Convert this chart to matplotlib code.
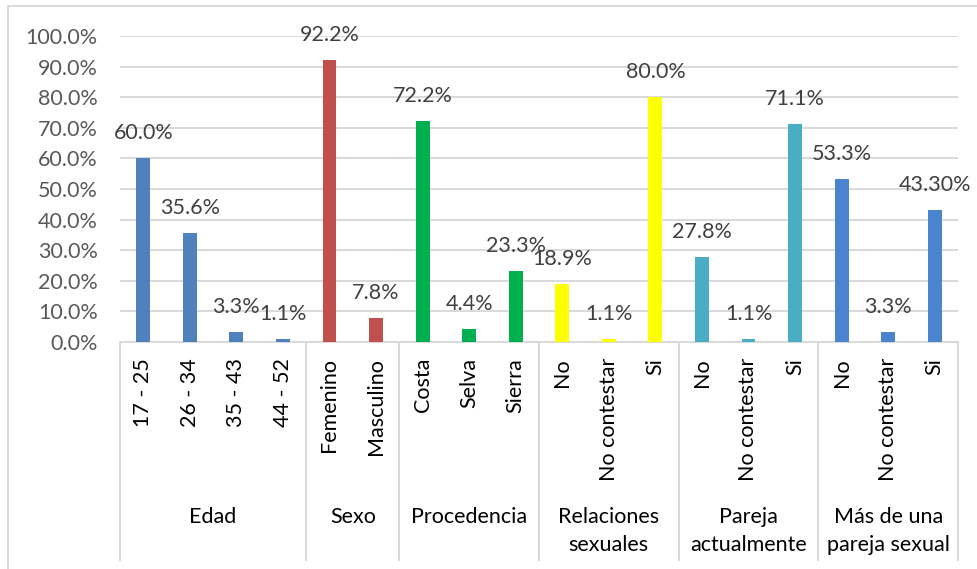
import matplotlib
matplotlib.use("Agg")
import matplotlib.pyplot as plt
import matplotlib.transforms as mtransforms
from matplotlib.lines import Line2D
from matplotlib.patches import Rectangle
import numpy as np

plt.rcParams['font.family'] = ['Lato', 'DejaVu Sans']

# Data
groups = ["Edad", "Sexo", "Procedencia", "Relaciones\nsexuales",
          "Pareja\nactualmente", "Más de una\npareja sexual"]
group_cats = [
    ["17 - 25", "26 - 34", "35 - 43", "44 - 52"],
    ["Femenino", "Masculino"],
    ["Costa", "Selva", "Sierra"],
    ["No", "No contestar", "Si"],
    ["No", "No contestar", "Si"],
    ["No", "No contestar", "Si"],
]
group_values = [
    [0.600, 0.356, 0.033, 0.011],
    [0.922, 0.078],
    [0.722, 0.044, 0.233],
    [0.189, 0.011, 0.800],
    [0.278, 0.011, 0.711],
    [0.533, 0.033, 0.433],
]
group_labels = [
    ["60.0%", "35.6%", "3.3%", "1.1%"],
    ["92.2%", "7.8%"],
    ["72.2%", "4.4%", "23.3%"],
    ["18.9%", "1.1%", "80.0%"],
    ["27.8%", "1.1%", "71.1%"],
    ["53.3%", "3.3%", "43.30%"],
]
group_colors = ["#4F81BD", "#C0504D", "#00B050", "#FFFF00", "#4BACC6", "#4A84CF"]

fig = plt.figure(figsize=(9.78, 5.69), dpi=100)
W, H = 978, 569
ax = fig.add_axes([120 / W, (H - 342) / H, (958 - 120) / W, (342 - 36) / H])

grid_c = "#D9D9D9"
fs = 15.5

# bars
x = 0
bounds = [-0.5]
for cats, vals, labs, col in zip(group_cats, group_values, group_labels, group_colors):
    xs = np.arange(x, x + len(cats))
    ax.bar(xs, vals, width=0.3, color=col, zorder=3)
    for xi, v, lab in zip(xs, vals, labs):
        ax.annotate(lab, (xi, v), xytext=(0, 18), textcoords="offset points",
                    ha="center", va="center", fontsize=fs, color="#404040", zorder=4)
    x += len(cats)
    bounds.append(x - 0.5)

ax.set_xlim(-0.5, x - 0.5)
ax.set_ylim(0, 1.0)
ax.set_yticks(np.arange(0, 1.01, 0.1))
ax.set_yticklabels([f"{t * 100:.1f}%" for t in np.arange(0, 1.01, 0.1)],
                   fontsize=fs, color="#595959")
ax.tick_params(axis="y", length=0, pad=16)
ax.tick_params(axis="x", length=0, labelbottom=False)
ax.grid(axis="y", color=grid_c, linewidth=1.4, zorder=0)
for s in ["left", "right", "top"]:
    ax.spines[s].set_visible(False)
ax.spines["bottom"].set_color(grid_c)
ax.spines["bottom"].set_linewidth(1.4)

# multi-level category axis
trans = mtransforms.blended_transform_factory(ax.transData, ax.transAxes)
ax_h = 342 - 36
y_cat = -16 / ax_h
y_grp = -(507 - 342) / ax_h
y_end = -(560 - 342) / ax_h

x = 0
for cats, grp in zip(group_cats, groups):
    for i, c in enumerate(cats):
        ax.text(x + i, y_cat, c, transform=trans, rotation=90, ha="center",
                va="top", fontsize=fs, color="black")
    ax.text(x + (len(cats) - 1) / 2, y_grp, grp, transform=trans, ha="center",
            va="top", fontsize=fs, color="black", linespacing=1.5,
            multialignment="center")
    x += len(cats)

for b in bounds:
    ax.add_line(Line2D([b, b], [0, y_end], transform=trans, color=grid_c,
                       linewidth=1.4, clip_on=False))

# outer chart border
fig.patches.append(Rectangle((8 / W, -0.1), 1.2, (H - 6) / H + 0.1,
                             transform=fig.transFigure, fill=False,
                             edgecolor=grid_c, linewidth=1.4))

fig.savefig("out.png", dpi=100)
